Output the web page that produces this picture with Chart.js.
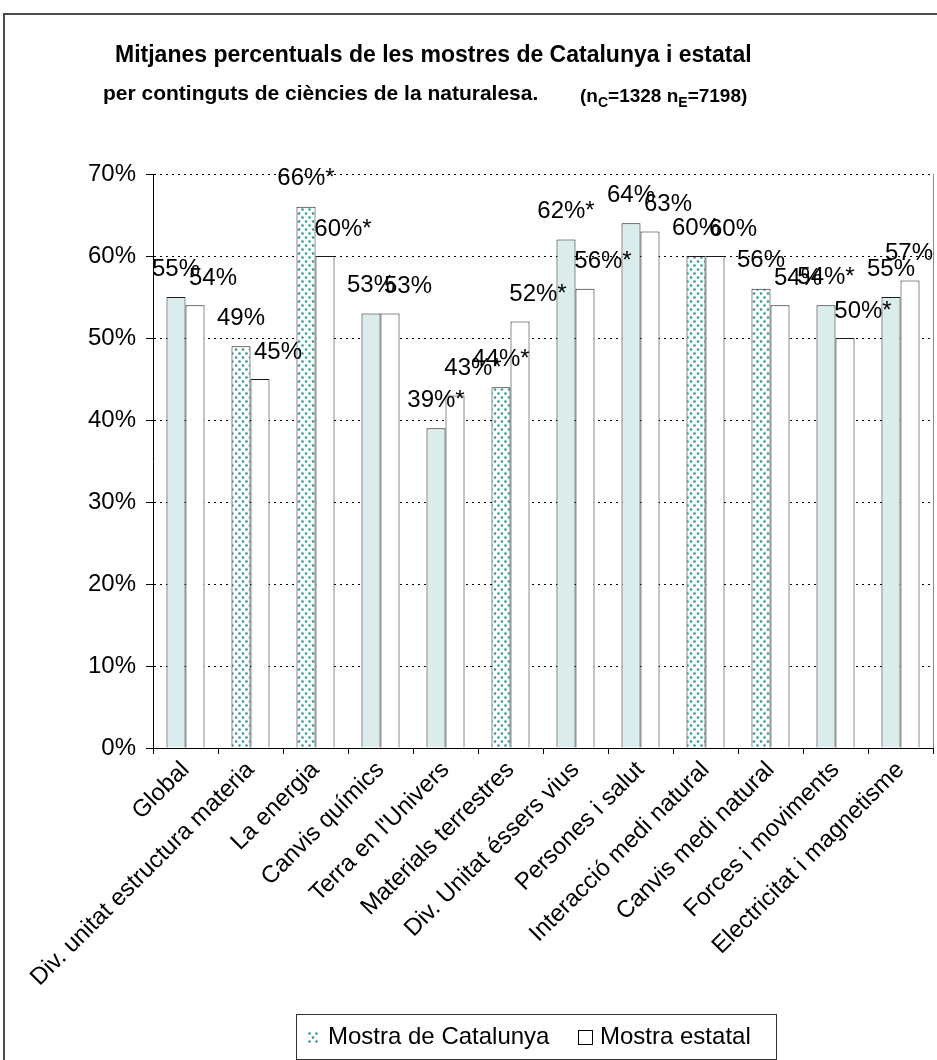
<!DOCTYPE html>
<html>
<head>
<meta charset="utf-8">
<script src="https://cdn.jsdelivr.net/npm/chart.js@4.4.1/dist/chart.umd.min.js"></script>
<style>
  html, body { margin: 0; padding: 0; background: #fff; }
  canvas { display: block; }
</style>
</head>
<body>
<canvas id="grafic" width="937" height="1060"></canvas>
<script>
const categories = [
    'Global',
    'Div. unitat estructura materia',
    'La energia',
    'Canvis químics',
    "Terra en l'Univers",
    'Materials terrestres',
    'Div. Unitat éssers vius',
    'Persones i salut',
    'Interacció medi natural',
    'Canvis medi natural',
    'Forces i moviments',
    'Electricitat i magnetisme'
];
const catalunya = [55, 49, 66, 53, 39, 44, 62, 64, 60, 56, 54, 55];
const estatal   = [54, 45, 60, 53, 43, 52, 56, 63, 60, 54, 50, 57];
// diferència significativa (*)
const significatiu = [false, false, true, false, true, true, true, false, false, false, true, false];
const marques_y = [0, 10, 20, 30, 40, 50, 60, 70];

// estil: barres de Catalunya amb trama de punts
const barres_puntejades = [1, 2, 5, 8, 9];

const FONT = '"Liberation Sans", Arial, sans-serif';
Chart.defaults.font.family = FONT;
Chart.defaults.font.size = 24;
Chart.defaults.color = '#000';

const canvasEl = document.getElementById('grafic');
const ctx0 = canvasEl.getContext('2d');

function crearTrama() {
    const c = document.createElement('canvas');
    c.width = 7; c.height = 8;
    const g = c.getContext('2d');
    g.fillStyle = '#ffffff';
    g.fillRect(0, 0, 7, 8);
    g.fillStyle = '#2f9797';
    g.beginPath(); g.arc(1.5, 1.5, 1.3, 0, Math.PI * 2); g.fill();
    g.beginPath(); g.arc(5.0, 5.5, 1.3, 0, Math.PI * 2); g.fill();
    return ctx0.createPattern(c, 'repeat');
}
const trama = crearTrama();
const colorsCat = catalunya.map((v, i) => barres_puntejades.includes(i) ? trama : '#dbecec');

const etiqueta = (v, i) => v + '%' + (significatiu[i] ? '*' : '');

const chart = new Chart(canvasEl, {
    type: 'bar',
    data: {
        labels: categories,
        datasets: [{
            label: 'Mostra de Catalunya',
            data: catalunya,
            backgroundColor: colorsCat,
            borderColor: '#1a1a1a',
            borderWidth: 1,
            borderSkipped: 'bottom',
            categoryPercentage: 0.585,
            barPercentage: 1.0
        }, {
            label: 'Mostra estatal',
            data: estatal,
            backgroundColor: '#ffffff',
            borderColor: '#1a1a1a',
            borderWidth: 1,
            borderSkipped: 'bottom',
            categoryPercentage: 0.585,
            barPercentage: 1.0
        }]
    },
    options: {
        responsive: false,
        animation: false,
        layout: { padding: { top: 174, left: 0, right: 4, bottom: 0 } },
        plugins: {
            legend: { display: false },
            tooltip: { enabled: false }
        },
        scales: {
            y: {
                min: 0, max: 70,
                afterBuildTicks: s => { s.ticks = marques_y.map(v => ({ value: v })); },
                afterFit: s => { s.width = 153; },
                ticks: { callback: v => v + '%', padding: 10, font: { size: 24 } },
                grid: {
                    color: c => c.tick && c.tick.value === 0 ? 'rgba(0,0,0,0)' : '#000',
                    tickColor: '#000',
                    tickBorderDash: [],
                    tickLength: 7,
                    lineWidth: 1
                },
                border: { display: true, color: '#000', width: 1, dash: [2, 4] }
            },
            x: {
                afterFit: s => { s.height = 312; },
                ticks: { autoSkip: false, maxRotation: 45, minRotation: 45, padding: 2, font: { size: 24 } },
                grid: { drawOnChartArea: false, color: '#000', tickLength: 6, offset: true },
                border: { display: true, color: '#000', width: 1 }
            }
        }
    },
    plugins: [{
        id: 'fons',
        beforeDraw(chart) {
            const { ctx, width, height } = chart;
            ctx.save();
            ctx.fillStyle = '#fff';
            ctx.fillRect(0, 0, width, height);
            ctx.strokeStyle = '#4a4a4a';
            ctx.lineWidth = 2;
            ctx.strokeRect(4, 14, width + 10, height + 10);
            ctx.restore();
        },
        afterDraw(chart) {
            const { ctx, chartArea } = chart;
            ctx.save();
            // vora dreta de l'àrea del gràfic
            ctx.strokeStyle = '#8a8a8a';
            ctx.lineWidth = 1;
            ctx.beginPath();
            ctx.moveTo(chartArea.right + 0.5, chartArea.top);
            ctx.lineTo(chartArea.right + 0.5, chartArea.bottom);
            ctx.stroke();

            // títol
            ctx.fillStyle = '#000';
            ctx.textBaseline = 'alphabetic';
            ctx.textAlign = 'left';
            ctx.font = 'bold 23px ' + FONT;
            ctx.fillText('Mitjanes percentuals de les mostres de Catalunya i estatal', 115, 62);
            ctx.font = 'bold 21px ' + FONT;
            ctx.fillText('per continguts de ciències de la naturalesa.', 103, 100);
            let x = 580;
            const parts = [['(n', 19, 0], ['C', 14, 5], ['=1328 n', 19, 0], ['E', 14, 5], ['=7198)', 19, 0]];
            parts.forEach(([t, sz, dy]) => {
                ctx.font = 'bold ' + sz + 'px ' + FONT;
                ctx.fillText(t, x, 102 + dy);
                x += ctx.measureText(t).width;
            });

            // llegenda
            ctx.strokeStyle = '#333';
            ctx.lineWidth = 1;
            ctx.strokeRect(296.5, 1014.5, 480, 45);
            ctx.fillStyle = trama;
            ctx.fillRect(307, 1031, 11, 12);
            ctx.fillStyle = '#fff';
            ctx.fillRect(578.5, 1030.5, 14, 14);
            ctx.strokeStyle = '#000';
            ctx.strokeRect(578.5, 1030.5, 14, 14);
            ctx.fillStyle = '#000';
            ctx.font = '24px ' + FONT;
            ctx.textBaseline = 'middle';
            ctx.fillText(chart.data.datasets[0].label, 328, 1037);
            ctx.fillText(chart.data.datasets[1].label, 600, 1037);
            ctx.restore();
        }
    }, {
        id: 'etiquetesValor',
        afterDatasetsDraw(chart) {
            const { ctx, data, chartArea } = chart;
            const desplacaments = [[0, -28], [18, -27]];
            ctx.save();
            ctx.fillStyle = '#000';
            ctx.font = '24px ' + FONT;
            ctx.textAlign = 'center';
            ctx.textBaseline = 'middle';
            data.datasets.forEach((ds, d) => {
                chart.getDatasetMeta(d).data.forEach((bar, i) => {
                    const [dx, dy] = desplacaments[d];
                    const txt = etiqueta(ds.data[i], i);
                    const w = ctx.measureText(txt).width;
                    const x = Math.min(bar.x + dx, chartArea.right - w / 2);
                    ctx.fillText(txt, x, bar.y + dy);
                });
            });
            ctx.restore();
        }
    }]
});
</script>
</body>
</html>
